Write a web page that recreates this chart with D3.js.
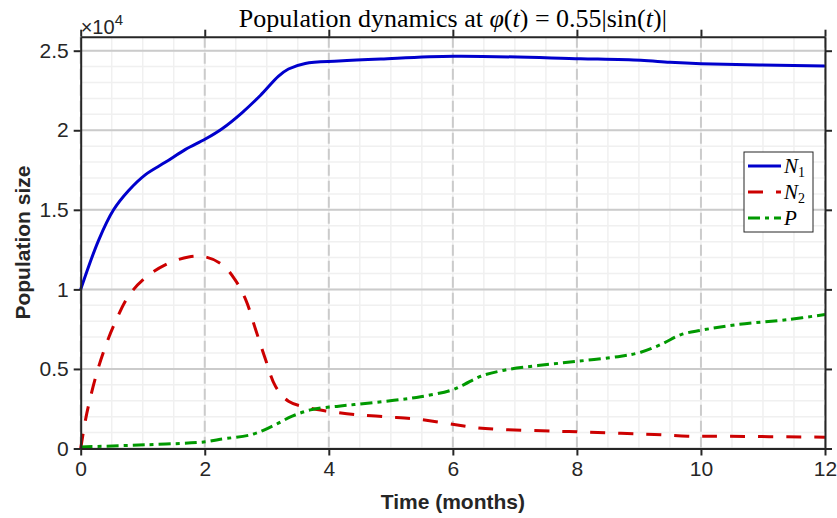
<!DOCTYPE html>
<html>
<head>
<meta charset="utf-8">
<script src="https://cdn.jsdelivr.net/npm/d3@7"></script>
<style>
  body { margin: 0; background: #fff; }
  svg { display: block; }
  .tick text { font-family: "Liberation Sans", Arial, sans-serif; font-size: 21px; fill: #262626; }
</style>
</head>
<body>
<div id="chart"></div>
<script>
// values (time in months, population in units of 1e4)
var tN1 = [0, 0.29, 0.53, 0.77, 1.04, 1.37, 1.69, 2.01, 2.28, 2.6, 2.9, 3.19, 3.35, 3.62, 4.16, 4.84, 6.02, 8.06, 9.03, 9.5, 10, 12];
var N1 = [1.0, 1.31, 1.5, 1.62, 1.72, 1.80, 1.88, 1.945, 2.01, 2.11, 2.22, 2.34, 2.385, 2.42, 2.435, 2.448, 2.465, 2.45, 2.44, 2.427, 2.418, 2.404];

var tN2 = [0, 0.1, 0.26, 0.4, 0.53, 0.77, 1.04, 1.37, 1.74, 2.01, 2.28, 2.49, 2.66, 2.82, 2.98, 3.14, 3.35, 3.68, 4.0, 4.41, 4.95, 5.48, 6.02, 6.4, 6.83, 7.63, 8.17, 9.25, 9.79, 10.32, 12];
var N2 = [0, 0.224, 0.475, 0.643, 0.77, 0.957, 1.072, 1.156, 1.204, 1.204, 1.156, 1.06, 0.936, 0.748, 0.559, 0.391, 0.297, 0.255, 0.234, 0.214, 0.199, 0.182, 0.151, 0.13, 0.119, 0.109, 0.103, 0.088, 0.077, 0.077, 0.071];

var tP = [0, 1.04, 2.01, 2.23, 2.76, 3.09, 3.41, 3.73, 4.16, 4.41, 5.05, 5.48, 5.97, 6.18, 6.45, 6.83, 7.37, 8.01, 8.71, 9.03, 9.35, 9.68, 10.0, 10.59, 11.4, 12];
var P = [0.01, 0.023, 0.042, 0.057, 0.088, 0.14, 0.203, 0.245, 0.266, 0.276, 0.303, 0.325, 0.366, 0.402, 0.454, 0.492, 0.521, 0.548, 0.58, 0.605, 0.653, 0.716, 0.743, 0.779, 0.81, 0.842];

var xTicks = [0, 2, 4, 6, 8, 10, 12];
var yTicks = [0, 0.5, 1, 1.5, 2, 2.5];
var xMinor = d3.range(0, 12.01, 0.5);
var yMinor = d3.range(0, 2.59, 0.1);

var seriesNames = ["N1", "N2", "P"];
var colors = ["#0000cc", "#cc0000", "#009900"];
var dashes = [null, "15,13", "12,5,4,5"];

var width = 837, height = 518;
var margin = { top: 36.7, right: 12, bottom: 69.5, left: 80.7 };
var innerW = width - margin.left - margin.right;
var innerH = height - margin.top - margin.bottom;

var x = d3.scaleLinear().domain([0, 12]).range([0, innerW]);
var y = d3.scaleLinear().domain([0, 2.588]).range([innerH, 0]);

var svg = d3.select("#chart").append("svg")
    .attr("width", width)
    .attr("height", height);

var g = svg.append("g")
    .attr("transform", "translate(" + margin.left + "," + margin.top + ")");

// minor grid
g.append("g").selectAll("line").data(xMinor).enter().append("line")
    .attr("x1", d => x(d)).attr("x2", d => x(d))
    .attr("y1", 0).attr("y2", innerH)
    .attr("stroke", "#f0f0f0").attr("stroke-width", 1.5);
g.append("g").selectAll("line").data(yMinor).enter().append("line")
    .attr("x1", 0).attr("x2", innerW)
    .attr("y1", d => y(d)).attr("y2", d => y(d))
    .attr("stroke", "#f0f0f0").attr("stroke-width", 1.5);

// major grid: solid horizontal, dashed vertical
g.append("g").selectAll("line").data(yTicks).enter().append("line")
    .attr("x1", 0).attr("x2", innerW)
    .attr("y1", d => y(d)).attr("y2", d => y(d))
    .attr("stroke", "#cbcbcb").attr("stroke-width", 2);
g.append("g").selectAll("line").data(xTicks).enter().append("line")
    .attr("x1", d => x(d)).attr("x2", d => x(d))
    .attr("y1", 0).attr("y2", innerH)
    .attr("stroke", "#cbcbcb").attr("stroke-width", 2)
    .attr("stroke-dasharray", "11,5");

// series
var seriesData = [
    tN1.map((t, i) => [t, N1[i]]),
    tN2.map((t, i) => [t, N2[i]]),
    tP.map((t, i) => [t, P[i]])
];
var line = d3.line()
    .x(d => x(d[0]))
    .y(d => y(d[1]))
    .curve(d3.curveCatmullRom.alpha(0.5));

g.append("g").selectAll("path").data(seriesData).enter().append("path")
    .attr("d", line)
    .attr("fill", "none")
    .attr("stroke", (d, i) => colors[i])
    .attr("stroke-width", 3)
    .attr("stroke-dasharray", (d, i) => dashes[i]);

// axes
function styleAxis(sel) {
    sel.select(".domain").attr("stroke", "#262626").attr("stroke-width", 2);
    sel.selectAll(".tick line").attr("stroke", "#262626").attr("stroke-width", 2);
}
g.append("g")
    .attr("transform", "translate(0," + innerH + ")")
    .call(d3.axisBottom(x).tickValues(xTicks).tickSize(7).tickSizeOuter(0).tickPadding(6).tickFormat(d3.format("d")))
    .call(styleAxis);
g.append("g")
    .call(d3.axisTop(x).tickValues(xTicks).tickSize(7).tickSizeOuter(0).tickFormat(""))
    .call(styleAxis);
g.append("g")
    .call(d3.axisLeft(y).tickValues(yTicks).tickSize(7).tickSizeOuter(0).tickPadding(5).tickFormat(d => d3.format("")(d)))
    .call(styleAxis);
g.append("g")
    .attr("transform", "translate(" + innerW + ",0)")
    .call(d3.axisRight(y).tickValues(yTicks).tickSize(7).tickSizeOuter(0).tickFormat(""))
    .call(styleAxis);

// exponent label
var expo = svg.append("text")
    .attr("x", margin.left)
    .attr("y", margin.top - 3)
    .attr("font-family", "Liberation Sans, Arial, sans-serif")
    .attr("font-size", 20)
    .attr("fill", "#262626");
expo.append("tspan").text("\u00d710");
expo.append("tspan").attr("font-size", 15).attr("dy", -9).text("4");

// title
var title = svg.append("text")
    .attr("x", margin.left + innerW / 2)
    .attr("y", 27)
    .attr("text-anchor", "middle")
    .attr("font-family", "Liberation Serif, Times New Roman, serif")
    .attr("font-size", 26)
    .attr("fill", "#000");
title.append("tspan").text("Population dynamics at ");
title.append("tspan").attr("font-style", "italic").text("\u03c6");
title.append("tspan").text("(");
title.append("tspan").attr("font-style", "italic").text("t");
title.append("tspan").text(") = 0.55|sin(");
title.append("tspan").attr("font-style", "italic").text("t");
title.append("tspan").text(")|");

// axis titles
svg.append("text")
    .attr("x", margin.left + innerW / 2)
    .attr("y", 509)
    .attr("text-anchor", "middle")
    .attr("font-family", "Liberation Sans, Arial, sans-serif")
    .attr("font-weight", "bold")
    .attr("font-size", 21)
    .attr("fill", "#262626")
    .text("Time (months)");
svg.append("text")
    .attr("transform", "translate(30," + (margin.top + innerH / 2) + ") rotate(-90)")
    .attr("text-anchor", "middle")
    .attr("font-family", "Liberation Sans, Arial, sans-serif")
    .attr("font-weight", "bold")
    .attr("font-size", 21)
    .attr("fill", "#262626")
    .text("Population size");

// legend
var legend = svg.append("g").attr("transform", "translate(744,152)");
legend.append("rect")
    .attr("width", 69).attr("height", 80)
    .attr("fill", "#fff").attr("stroke", "#262626").attr("stroke-width", 1);
var entries = legend.selectAll(".legendEntry").data(seriesNames).enter().append("g")
    .attr("class", "legendEntry")
    .attr("transform", (d, i) => "translate(0," + (14 + i * 26) + ")");
entries.append("line")
    .attr("x1", 4).attr("x2", 37)
    .attr("stroke", (d, i) => colors[i])
    .attr("stroke-width", 3)
    .attr("stroke-dasharray", (d, i) => dashes[i]);
var labels = entries.append("text")
    .attr("x", 40).attr("y", 7)
    .attr("font-family", "Liberation Serif, Times New Roman, serif")
    .attr("font-size", 21)
    .attr("fill", "#000");
labels.append("tspan").attr("font-style", "italic").text(d => d.charAt(0) === "N" ? "N" : "P");
labels.append("tspan").attr("font-size", 14).attr("dy", 4).text(d => d.length > 1 ? d.charAt(1) : "");
</script>
</body>
</html>
